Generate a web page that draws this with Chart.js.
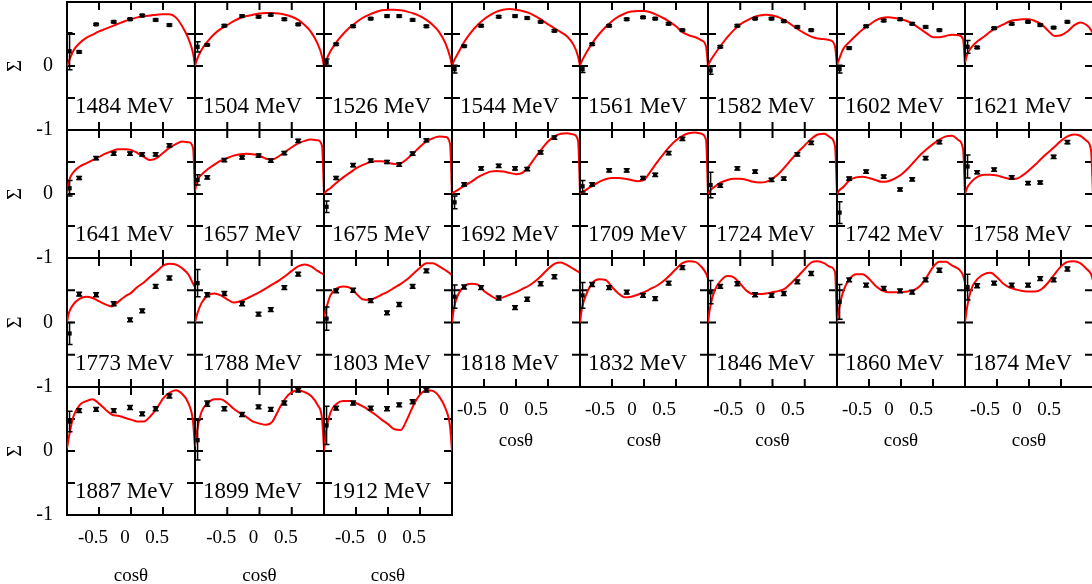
<!DOCTYPE html>
<html>
<head>
<meta charset="utf-8">
<title>Beam asymmetry Σ vs cosθ</title>
<script src="https://cdn.jsdelivr.net/npm/chart.js@4"></script>
<style>
  body { margin: 0; background: #fff; }
  #grid { position: relative; width: 1092px; height: 584px; overflow: hidden; }
  #grid canvas { position: absolute; }
</style>
</head>
<body>
<div id="grid"></div>
<script>
// photon energy of each panel (MeV)
const energies = [1484, 1504, 1526, 1544, 1561, 1582, 1602, 1621,
                  1641, 1657, 1675, 1692, 1709, 1724, 1742, 1758,
                  1773, 1788, 1803, 1818, 1832, 1846, 1860, 1874,
                  1887, 1899, 1912];

// measured angular bins
const cosTheta = [-0.96, -0.81, -0.545, -0.27, -0.015, 0.175, 0.385, 0.60];

// measured Σ per panel
const sigma = [
  [0.23, 0.22, 0.65, 0.69, 0.73, 0.79, 0.72, 0.64],
  [0.30, 0.33, 0.63, 0.78, 0.77, 0.80, 0.73, 0.65],
  [0.06, 0.34, 0.62, 0.74, 0.78, 0.78, 0.72, 0.62],
  [-0.05, 0.31, 0.63, 0.77, 0.78, 0.75, 0.69, 0.55],
  [-0.05, 0.34, 0.63, 0.73, 0.76, 0.74, 0.66, 0.56],
  [-0.07, 0.30, 0.63, 0.74, 0.74, 0.70, 0.61, 0.56],
  [-0.05, 0.28, 0.62, 0.71, 0.73, 0.66, 0.61, 0.56],
  [0.30, 0.29, 0.59, 0.66, 0.69, 0.64, 0.60, 0.69],
  [0.09, 0.25, 0.56, 0.63, 0.63, 0.62, 0.62, 0.76],
  [0.22, 0.26, 0.53, 0.57, 0.60, 0.52, 0.64, 0.83],
  [-0.20, 0.25, 0.45, 0.52, 0.50, 0.46, 0.63, 0.84],
  [-0.13, 0.15, 0.40, 0.44, 0.40, 0.39, 0.65, 0.88],
  [0.12, 0.15, 0.37, 0.37, 0.25, 0.30, 0.64, 0.86],
  [0.14, 0.13, 0.40, 0.35, 0.22, 0.24, 0.62, 0.80],
  [-0.29, 0.24, 0.35, 0.27, 0.07, 0.23, 0.56, 0.81],
  [0.43, 0.34, 0.38, 0.26, 0.17, 0.18, 0.58, 0.81],
  [-0.17, 0.44, 0.43, 0.29, 0.04, 0.18, 0.56, 0.69],
  [0.61, 0.43, 0.45, 0.29, 0.13, 0.20, 0.54, 0.75],
  [0.06, 0.49, 0.50, 0.34, 0.15, 0.28, 0.56, 0.80],
  [0.40, 0.55, 0.54, 0.38, 0.23, 0.36, 0.60, 0.71],
  [0.42, 0.59, 0.54, 0.47, 0.42, 0.37, 0.61, 0.85],
  [0.47, 0.56, 0.60, 0.43, 0.42, 0.45, 0.63, 0.76],
  [0.32, 0.66, 0.58, 0.53, 0.49, 0.47, 0.66, 0.81],
  [0.55, 0.57, 0.61, 0.58, 0.58, 0.68, 0.66, 0.83],
  [0.46, 0.63, 0.65, 0.63, 0.68, 0.58, 0.66, 0.86],
  [0.17, 0.74, 0.66, 0.57, 0.69, 0.65, 0.75, 0.95],
  [0.40, 0.67, 0.75, 0.67, 0.66, 0.72, 0.77, 0.95]
];

// statistical errors on Σ
const sigmaErr = [
  [0.29, 0.015, 0.015, 0.015, 0.015, 0.015, 0.015, 0.015],
  [0.08, 0.015, 0.015, 0.015, 0.015, 0.015, 0.015, 0.015],
  [0.05, 0.015, 0.015, 0.015, 0.015, 0.015, 0.015, 0.015],
  [0.06, 0.015, 0.015, 0.015, 0.015, 0.015, 0.015, 0.015],
  [0.05, 0.015, 0.015, 0.015, 0.015, 0.015, 0.015, 0.015],
  [0.06, 0.015, 0.015, 0.015, 0.015, 0.015, 0.015, 0.015],
  [0.06, 0.015, 0.015, 0.015, 0.015, 0.015, 0.015, 0.015],
  [0.10, 0.015, 0.015, 0.015, 0.015, 0.015, 0.015, 0.015],
  [0.12, 0.025, 0.025, 0.025, 0.025, 0.025, 0.025, 0.025],
  [0.08, 0.025, 0.025, 0.025, 0.025, 0.025, 0.025, 0.025],
  [0.09, 0.025, 0.025, 0.025, 0.025, 0.025, 0.025, 0.025],
  [0.10, 0.025, 0.025, 0.025, 0.025, 0.025, 0.025, 0.025],
  [0.09, 0.025, 0.025, 0.025, 0.025, 0.025, 0.025, 0.025],
  [0.20, 0.025, 0.025, 0.025, 0.025, 0.025, 0.025, 0.025],
  [0.17, 0.025, 0.025, 0.025, 0.025, 0.025, 0.025, 0.025],
  [0.18, 0.025, 0.025, 0.025, 0.025, 0.025, 0.025, 0.025],
  [0.17, 0.03, 0.03, 0.03, 0.03, 0.03, 0.03, 0.03],
  [0.21, 0.03, 0.03, 0.03, 0.03, 0.03, 0.03, 0.03],
  [0.18, 0.03, 0.03, 0.03, 0.03, 0.03, 0.03, 0.03],
  [0.18, 0.03, 0.03, 0.03, 0.03, 0.03, 0.03, 0.03],
  [0.20, 0.03, 0.03, 0.03, 0.03, 0.03, 0.03, 0.03],
  [0.18, 0.03, 0.03, 0.03, 0.03, 0.03, 0.03, 0.03],
  [0.27, 0.03, 0.03, 0.03, 0.03, 0.03, 0.03, 0.03],
  [0.20, 0.03, 0.03, 0.03, 0.03, 0.03, 0.03, 0.03],
  [0.16, 0.03, 0.03, 0.03, 0.03, 0.03, 0.03, 0.03],
  [0.31, 0.04, 0.03, 0.03, 0.03, 0.03, 0.03, 0.03],
  [0.30, 0.03, 0.03, 0.03, 0.03, 0.03, 0.03, 0.03]
];

// model curve, sampled on a common cosθ grid
const curveX = [-1, -0.97, -0.9, -0.8, -0.7, -0.6, -0.5, -0.4, -0.3, -0.2, -0.1, 0,
                0.1, 0.2, 0.3, 0.4, 0.5, 0.6, 0.7, 0.8, 0.9, 0.97, 1];
const curveSigma = [
  [0, 0.08, 0.24, 0.36, 0.44, 0.49, 0.54, 0.58, 0.62, 0.66, 0.70, 0.73, 0.76, 0.775, 0.79, 0.80, 0.81, 0.81, 0.76, 0.62, 0.42, 0.20, 0],
  [0, 0.10, 0.25, 0.39, 0.50, 0.58, 0.64, 0.70, 0.75, 0.78, 0.80, 0.82, 0.83, 0.83, 0.82, 0.80, 0.77, 0.72, 0.64, 0.53, 0.35, 0.15, 0],
  [0, 0.08, 0.23, 0.38, 0.50, 0.60, 0.68, 0.75, 0.80, 0.84, 0.87, 0.88, 0.88, 0.87, 0.85, 0.82, 0.78, 0.72, 0.64, 0.53, 0.35, 0.14, 0],
  [0, 0.08, 0.21, 0.39, 0.53, 0.64, 0.73, 0.80, 0.85, 0.88, 0.89, 0.88, 0.86, 0.83, 0.78, 0.72, 0.65, 0.59, 0.53, 0.46, 0.33, 0.15, 0],
  [0, 0.08, 0.21, 0.37, 0.50, 0.61, 0.70, 0.77, 0.82, 0.85, 0.86, 0.86, 0.84, 0.80, 0.75, 0.69, 0.62, 0.53, 0.48, 0.45, 0.40, 0.30, 0],
  [0, 0.07, 0.18, 0.32, 0.45, 0.56, 0.65, 0.71, 0.76, 0.79, 0.80, 0.79, 0.76, 0.71, 0.64, 0.57, 0.51, 0.46, 0.43, 0.42, 0.40, 0.30, 0],
  [0.02, 0.10, 0.27, 0.38, 0.48, 0.57, 0.64, 0.71, 0.75, 0.76, 0.75, 0.73, 0.70, 0.65, 0.58, 0.51, 0.45, 0.45, 0.47, 0.49, 0.48, 0.42, 0.02],
  [0.05, 0.17, 0.29, 0.39, 0.46, 0.54, 0.60, 0.65, 0.70, 0.72, 0.73, 0.73, 0.70, 0.65, 0.55, 0.47, 0.48, 0.54, 0.63, 0.68, 0.64, 0.56, 0.50],
  [0, 0.20, 0.34, 0.43, 0.48, 0.53, 0.58, 0.63, 0.67, 0.70, 0.70, 0.69, 0.64, 0.58, 0.53, 0.56, 0.64, 0.72, 0.78, 0.82, 0.81, 0.72, 0],
  [0.04, 0.20, 0.30, 0.39, 0.46, 0.52, 0.56, 0.60, 0.62, 0.63, 0.62, 0.60, 0.55, 0.54, 0.59, 0.66, 0.73, 0.79, 0.83, 0.85, 0.84, 0.75, 0.02],
  [0, 0.04, 0.09, 0.18, 0.26, 0.33, 0.40, 0.45, 0.49, 0.51, 0.51, 0.49, 0.47, 0.48, 0.55, 0.64, 0.74, 0.82, 0.87, 0.90, 0.89, 0.78, 0],
  [0.01, 0.03, 0.07, 0.13, 0.19, 0.26, 0.31, 0.35, 0.36, 0.35, 0.33, 0.31, 0.33, 0.43, 0.57, 0.70, 0.82, 0.90, 0.94, 0.95, 0.93, 0.83, 0.03],
  [0.01, 0.03, 0.07, 0.13, 0.19, 0.23, 0.25, 0.25, 0.24, 0.22, 0.20, 0.22, 0.35, 0.49, 0.62, 0.74, 0.84, 0.91, 0.95, 0.96, 0.94, 0.84, 0],
  [0, 0.05, 0.11, 0.18, 0.22, 0.24, 0.24, 0.22, 0.19, 0.18, 0.19, 0.24, 0.32, 0.43, 0.55, 0.66, 0.76, 0.86, 0.93, 0.94, 0.88, 0.74, 0],
  [0, 0.05, 0.11, 0.22, 0.26, 0.27, 0.25, 0.22, 0.19, 0.20, 0.24, 0.30, 0.39, 0.50, 0.61, 0.70, 0.78, 0.85, 0.90, 0.91, 0.84, 0.70, 0],
  [0, 0.09, 0.19, 0.27, 0.30, 0.30, 0.29, 0.26, 0.24, 0.24, 0.29, 0.37, 0.46, 0.56, 0.65, 0.74, 0.83, 0.90, 0.93, 0.91, 0.83, 0.68, 0],
  [0.01, 0.15, 0.28, 0.37, 0.40, 0.38, 0.33, 0.28, 0.25, 0.32, 0.40, 0.46, 0.55, 0.62, 0.71, 0.79, 0.88, 0.91, 0.90, 0.84, 0.74, 0.60, 0.55],
  [0, 0.12, 0.30, 0.42, 0.45, 0.42, 0.36, 0.31, 0.33, 0.37, 0.42, 0.47, 0.53, 0.59, 0.65, 0.72, 0.80, 0.87, 0.90, 0.87, 0.80, 0.76, 0.74],
  [0.08, 0.20, 0.42, 0.53, 0.56, 0.54, 0.45, 0.36, 0.35, 0.38, 0.43, 0.48, 0.54, 0.60, 0.67, 0.76, 0.85, 0.92, 0.92, 0.87, 0.81, 0.76, 0.73],
  [0, 0.22, 0.44, 0.57, 0.60, 0.59, 0.49, 0.42, 0.37, 0.39, 0.43, 0.47, 0.52, 0.57, 0.64, 0.73, 0.83, 0.91, 0.93, 0.89, 0.83, 0.79, 0.77],
  [0, 0.22, 0.44, 0.62, 0.67, 0.66, 0.55, 0.45, 0.39, 0.40, 0.43, 0.47, 0.52, 0.57, 0.64, 0.73, 0.83, 0.92, 0.95, 0.94, 0.86, 0.76, 0.68],
  [0, 0.22, 0.49, 0.65, 0.72, 0.70, 0.60, 0.49, 0.44, 0.44, 0.45, 0.47, 0.49, 0.53, 0.62, 0.72, 0.83, 0.93, 0.95, 0.92, 0.86, 0.78, 0],
  [0, 0.20, 0.49, 0.68, 0.75, 0.75, 0.68, 0.57, 0.50, 0.47, 0.47, 0.47, 0.48, 0.50, 0.57, 0.70, 0.86, 0.94, 0.94, 0.88, 0.83, 0.73, 0.62],
  [0, 0.22, 0.52, 0.68, 0.75, 0.77, 0.70, 0.60, 0.54, 0.51, 0.49, 0.48, 0.48, 0.52, 0.62, 0.75, 0.87, 0.94, 0.95, 0.92, 0.83, 0.75, 0.65],
  [0.04, 0.22, 0.54, 0.72, 0.78, 0.81, 0.74, 0.65, 0.57, 0.55, 0.52, 0.49, 0.46, 0.46, 0.54, 0.66, 0.82, 0.91, 0.95, 0.89, 0.74, 0.45, 0.04],
  [0.07, 0.30, 0.61, 0.75, 0.81, 0.81, 0.75, 0.66, 0.59, 0.53, 0.46, 0.43, 0.41, 0.46, 0.65, 0.82, 0.92, 0.95, 0.92, 0.86, 0.72, 0.50, 0.04],
  [0, 0.30, 0.60, 0.74, 0.78, 0.78, 0.75, 0.70, 0.64, 0.57, 0.49, 0.42, 0.34, 0.33, 0.50, 0.72, 0.88, 0.95, 0.94, 0.85, 0.66, 0.38, 0]
];

const frameTicks = [-0.5, 0, 0.5];

const COLS = 8;
const colLeft = [67, 195, 324, 452, 580, 708, 837, 965, 1093];
const rowTop = [2, 130, 258, 387, 515];
const TICK = 8;
const serif = '"Liberation Serif", "Times New Roman", serif';

// border, inward ticks on all four sides and the energy label
const framePlugin = {
  id: 'frame',
  beforeDatasetsDraw(chart, args, opts) {
    const { ctx, chartArea: a, scales: { x, y } } = chart;
    ctx.save();
    ctx.strokeStyle = '#000';
    ctx.lineWidth = 2;
    ctx.strokeRect(a.left, a.top, a.width, a.height);
    ctx.beginPath();
    frameTicks.forEach(v => {
      const px = x.getPixelForValue(v);
      ctx.moveTo(px, a.top); ctx.lineTo(px, a.top + TICK);
      ctx.moveTo(px, a.bottom); ctx.lineTo(px, a.bottom - TICK);
      const py = y.getPixelForValue(v);
      ctx.moveTo(a.left, py); ctx.lineTo(a.left + TICK, py);
      ctx.moveTo(a.right, py); ctx.lineTo(a.right - TICK, py);
    });
    ctx.stroke();
    ctx.fillStyle = '#000';
    ctx.font = '23px ' + serif;
    ctx.textBaseline = 'alphabetic';
    ctx.fillText(opts.label, a.left + 8, y.getPixelForValue(-0.73));
    ctx.restore();
  }
};

// vertical error bars with small caps on the measured points
const errorBarPlugin = {
  id: 'errorBars',
  afterDatasetsDraw(chart, args, opts) {
    const { ctx, scales: { x, y } } = chart;
    ctx.save();
    ctx.strokeStyle = '#000';
    ctx.lineWidth = 1.5;
    ctx.beginPath();
    chart.data.datasets[0].data.forEach((p, k) => {
      const px = x.getPixelForValue(p.x);
      const lo = y.getPixelForValue(p.y - opts.err[k]);
      const hi = y.getPixelForValue(p.y + opts.err[k]);
      ctx.moveTo(px, lo); ctx.lineTo(px, hi);
      ctx.moveTo(px - 3, lo); ctx.lineTo(px + 3, lo);
      ctx.moveTo(px - 3, hi); ctx.lineTo(px + 3, hi);
    });
    ctx.stroke();
    ctx.restore();
  }
};

const grid = document.getElementById('grid');

energies.forEach((energy, i) => {
  const row = Math.floor(i / COLS);
  const col = i % COLS;
  const withX = i + COLS >= energies.length;   // nothing below: show cosθ axis
  const withY = col === 0;

  const w = colLeft[col + 1] - colLeft[col];
  const h = rowTop[row + 1] - rowTop[row];
  const padL = withY ? 0 : 3;
  const axisW = withY ? 67 : 0;
  const padB = withX ? 0 : (withY ? 14 : 3);
  const axisH = withX ? 74 : 0;

  const canvas = document.createElement('canvas');
  canvas.width = axisW + padL + w + 3;
  canvas.height = 3 + h + padB + axisH;
  canvas.style.left = (colLeft[col] - axisW - padL) + 'px';
  canvas.style.top = (rowTop[row] - 3) + 'px';
  grid.appendChild(canvas);

  const points = cosTheta.map((c, k) => ({ x: c, y: sigma[i][k] }));
  const curve = curveX.map((c, k) => ({ x: c, y: curveSigma[i][k] }));

  new Chart(canvas, {
    type: 'scatter',
    data: {
      datasets: [
        {
          data: points,
          pointStyle: 'rect',
          pointRadius: 3,
          backgroundColor: '#000',
          borderColor: '#000',
          borderWidth: 0
        },
        {
          type: 'line',
          data: curve,
          borderColor: '#f00',
          borderWidth: 2,
          pointRadius: 0,
          fill: false,
          cubicInterpolationMode: 'monotone'
        }
      ]
    },
    options: {
      responsive: false,
      animation: false,
      events: [],
      layout: { autoPadding: false, padding: { left: padL, top: 3, right: 3, bottom: padB } },
      plugins: {
        legend: { display: false },
        tooltip: { enabled: false },
        frame: { label: energy + ' MeV' },
        errorBars: { err: sigmaErr[i] }
      },
      scales: {
        x: {
          type: 'linear',
          min: -1,
          max: 1,
          display: withX,
          afterFit: s => { s.height = axisH; s.paddingLeft = 0; s.paddingRight = 0; },
          grid: { display: false, drawTicks: false },
          border: { display: false },
          ticks: {
            stepSize: 0.5,
            autoSkip: false,
            maxRotation: 0,
            padding: 12,
            labelOffset: row === 3 ? -6 : -12,
            color: '#000',
            font: { family: serif, size: 19 },
            callback: v => (Math.abs(v) === 1 ? '' : String(v))
          },
          title: {
            display: true,
            text: 'cosθ',
            color: '#000',
            font: { family: serif, size: 19 },
            padding: { top: 0, bottom: row === 3 ? 2 : 9 }
          }
        },
        y: {
          min: -1,
          max: 1,
          display: withY,
          afterFit: s => { s.width = axisW; s.paddingTop = 0; s.paddingBottom = 0; },
          grid: { display: false, drawTicks: false },
          border: { display: false },
          ticks: {
            stepSize: 0.5,
            padding: 14,
            color: '#000',
            font: { family: serif, size: 20 },
            callback: v => (v === 0 ? '0' : v === -1 ? '-1' : '')
          },
          title: {
            display: true,
            text: 'Σ',
            color: '#000',
            font: { family: serif, size: 20 },
            padding: { top: 4, bottom: 0 }
          }
        }
      }
    },
    plugins: [framePlugin, errorBarPlugin]
  });
});
</script>
</body>
</html>
